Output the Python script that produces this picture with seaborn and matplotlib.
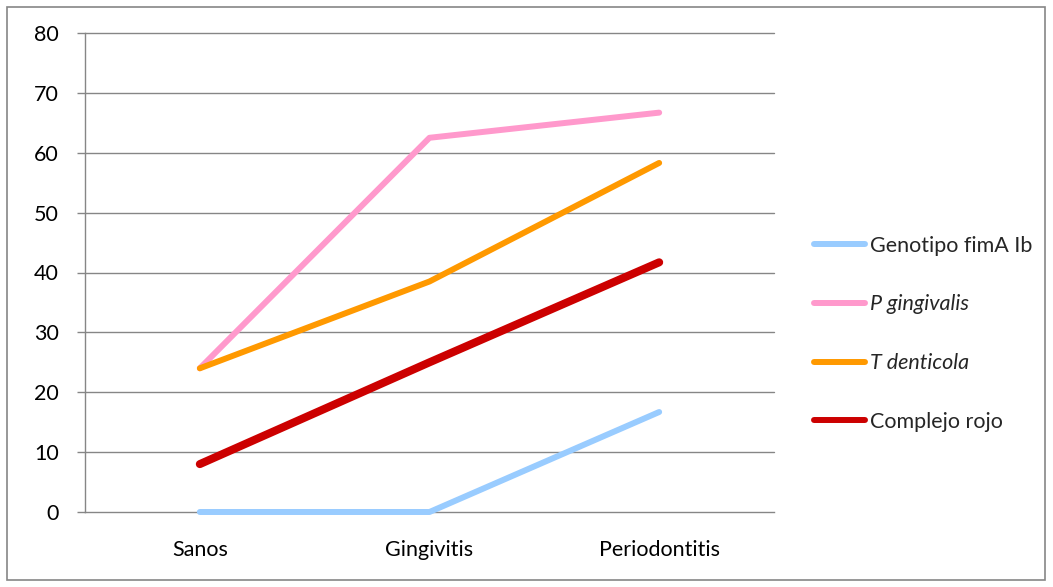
import matplotlib
matplotlib.use("Agg")
import matplotlib.pyplot as plt
import matplotlib.patches as mpatches
import pandas as pd
import seaborn as sns

categories = ["Sanos", "Gingivitis", "Periodontitis"]
series_names = ["Genotipo fimA Ib", "P gingivalis", "T denticola", "Complejo rojo"]
genotipo = [0, 0, 16.7]
p_gingivalis = [24, 62.5, 66.7]
t_denticola = [24, 38.5, 58.3]
complejo_rojo = [8, 25, 41.7]
y_ticks = [0, 10, 20, 30, 40, 50, 60, 70, 80]

colors = {"Genotipo fimA Ib": "#99CCFF", "P gingivalis": "#FF99CC",
          "T denticola": "#FF9900", "Complejo rojo": "#CC0000"}
widths = {"Genotipo fimA Ib": 4.3, "P gingivalis": 4.3,
          "T denticola": 4.3, "Complejo rojo": 5.8}

values = [genotipo, p_gingivalis, t_denticola, complejo_rojo]
rows = []
for name, vals in zip(series_names, values):
    for cat, v in zip(categories, vals):
        rows.append({"grupo": cat, "valor": v, "serie": name})
df = pd.DataFrame(rows)

sns.set_style("white")
plt.rcParams["font.family"] = ["Lato", "DejaVu Sans"]
FS = 15.5

fig = plt.figure(figsize=(10.53, 5.87), dpi=100)
ax = fig.add_axes([85 / 1053, 1 - 512 / 587, 689 / 1053, 479 / 587])

grid_c = "#868686"
for yv in y_ticks[1:]:
    ax.axhline(yv, color=grid_c, lw=1.0, zorder=0)

sns.lineplot(data=df, x="grupo", y="valor", hue="serie", size="serie",
             hue_order=series_names, size_order=series_names,
             palette=colors, sizes=widths, sort=False, ax=ax,
             solid_capstyle="round", zorder=3)
for ln in ax.get_lines():
    ln.set_clip_on(False)

ax.set_xlim(-0.5, 2.5)
ax.set_ylim(0, 80)
ax.set_yticks(y_ticks)
ax.set_yticklabels([str(v) for v in y_ticks], fontsize=FS, color="black")
ax.set_xticks([0, 1, 2])
ax.set_xticklabels(categories, fontsize=FS, color="black")
ax.set_xticks([-0.5, 0.5, 1.5, 2.5], minor=True)
ax.tick_params(axis="x", which="major", length=0, pad=20)
ax.tick_params(axis="x", which="minor", length=6, width=1, color=grid_c, direction="out")
ax.tick_params(axis="y", which="major", length=6, width=1, color=grid_c, direction="out", pad=13, left=True)
ax.set_xlabel("")
ax.set_ylabel("")

for side in ["top", "right"]:
    ax.spines[side].set_visible(False)
for side in ["left", "bottom"]:
    ax.spines[side].set_color(grid_c)
    ax.spines[side].set_linewidth(1.0)
ax.spines["left"].set_zorder(1)
ax.spines["bottom"].set_zorder(1)

handles, labels = ax.get_legend_handles_labels()
ax.get_legend().remove()
leg = fig.legend(handles, labels, loc="upper left",
                 bbox_to_anchor=(805 / 1053, 1 - 227 / 587),
                 frameon=False, fontsize=FS, handlelength=2.4,
                 handletextpad=0.2, labelspacing=1.8, borderaxespad=0)
for h in leg.get_lines():
    h.set_linewidth(4.3)
    h.set_solid_capstyle("round")
for t in leg.get_texts():
    if t.get_text() in ("P gingivalis", "T denticola"):
        t.set_fontstyle("italic")

fig.patches.append(mpatches.Rectangle((7 / 1053, 1 - 580 / 587), 1038 / 1053, 573 / 587,
                                      transform=fig.transFigure, fill=False,
                                      edgecolor=grid_c, lw=1.2))

fig.savefig("out.png", dpi=100)
